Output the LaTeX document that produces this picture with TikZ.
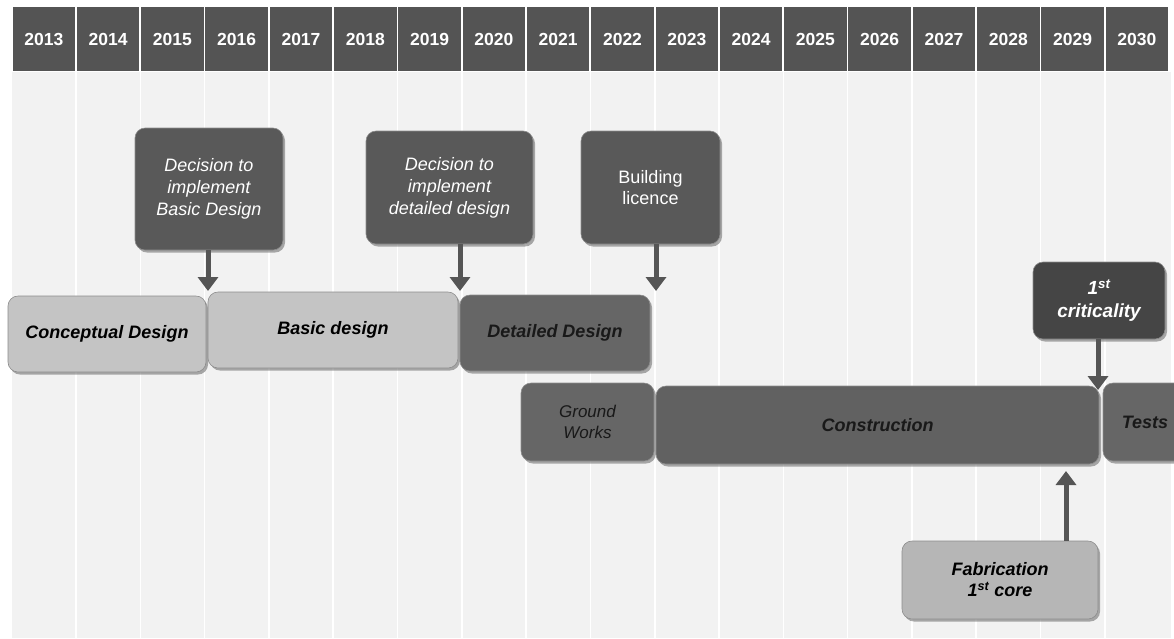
\documentclass[tikz,border=0pt]{standalone}
\usepackage{fontspec}
\setmainfont{Liberation Sans}
\usetikzlibrary{arrows.meta,shadows,calc}
\definecolor{hdr}{HTML}{545454}
\definecolor{bg}{HTML}{F2F2F2}
\definecolor{dk}{HTML}{595959}
\definecolor{dkr}{HTML}{454545}
\definecolor{md}{HTML}{666666}
\definecolor{lt}{HTML}{C4C4C4}
\definecolor{fb}{HTML}{B6B6B6}
\definecolor{arr}{HTML}{555555}
\begin{document}
\begin{tikzpicture}[x=1pt,y=-1pt,
  hdrcell/.style={fill=hdr,minimum width=62.5pt,minimum height=64pt,inner sep=0pt,text=white,font=\fontsize{17.5}{19}\selectfont\bfseries},
  box/.style={rounded corners=10pt,draw=black!45,line width=0.6pt,inner sep=2pt,align=center,
    drop shadow={shadow xshift=2pt,shadow yshift=-2.5pt,fill=black!55,opacity=0.6}},
  mile/.style={box,fill=dk,text=white,font=\fontsize{18}{22}\selectfont\itshape},
  phase/.style={box,fill=lt,text=black,font=\fontsize{18}{21}\selectfont\bfseries\itshape},
  mphase/.style={box,fill=md,text=black!90,font=\fontsize{18}{21}\selectfont\bfseries\itshape},
  ms/.style={draw=arr,line width=5pt,-{Triangle[width=20pt,length=14pt]}}]
\clip (0,0) rectangle (1174,638);
\fill[white] (0,0) rectangle (1174,638);
\fill[bg] (12,72) rectangle (1171,638);
\foreach \i in {1,...,17} \draw[white,line width=1.6pt] ({12.5+\i*64.3-0.8},72) -- ({12.5+\i*64.3-0.8},638);
\foreach \yr [count=\i from 0] in {2013,...,2030}
  \node[hdrcell] (h\yr) at ({12.5+\i*64.3+31.3},39) {\yr};

% milestone boxes
\node[mile,minimum width=148pt,minimum height=122pt] (dbasic) at (209,189) {Decision to\\implement\\Basic Design};
\node[mile,minimum width=167pt,minimum height=113pt] (ddetail) at (449.5,187.5) {Decision to\\implement\\detailed design};
\node[mile,minimum width=139pt,minimum height=113pt,font=\fontsize{18}{21}\selectfont] (blic) at (650.5,187.5) {Building\\licence};
\node[mile,fill=dkr,minimum width=132pt,minimum height=77pt,font=\fontsize{19}{23}\selectfont\bfseries\itshape] (crit) at (1099,300.5) {1\textsuperscript{st}\\criticality};

% phases
\node[phase,minimum width=198pt,minimum height=76pt] (concept) at (107,334) {Conceptual Design};
\node[phase,minimum width=250pt,minimum height=76pt] (basic) at (333,330) {Basic design};
\node[mphase,minimum width=190pt,minimum height=76pt] (detailed) at (555,333) {Detailed Design};
\node[mphase,minimum width=133pt,minimum height=78pt,font=\fontsize{17}{21}\selectfont\itshape] (ground) at (587.5,422) {Ground\\Works};
\node[mphase,fill=dk!95!white,minimum width=443pt,minimum height=78pt] (constr) at (877.5,425) {Construction};
\node[mphase,minimum width=84pt,minimum height=78pt] (tests) at (1145,422) {Tests};
\node[phase,fill=fb,minimum width=196pt,minimum height=78pt] (fab) at (1000,580) {Fabrication\\1\textsuperscript{st} core};

% milestone arrows
\coordinate (t1) at (208,291);
\coordinate (t2) at (460,291);
\coordinate (t3) at (656,291);
\coordinate (t4) at (1098,390);
\coordinate (t5) at (1066,471);
\draw[ms] (dbasic.south -| t1) -- (t1);
\draw[ms] (ddetail.south -| t2) -- (t2);
\draw[ms] (blic.south -| t3) -- (t3);
\draw[ms] (crit.south -| t4) -- (t4);
\draw[ms] (fab.north -| t5) -- (t5);
\end{tikzpicture}
\end{document}
